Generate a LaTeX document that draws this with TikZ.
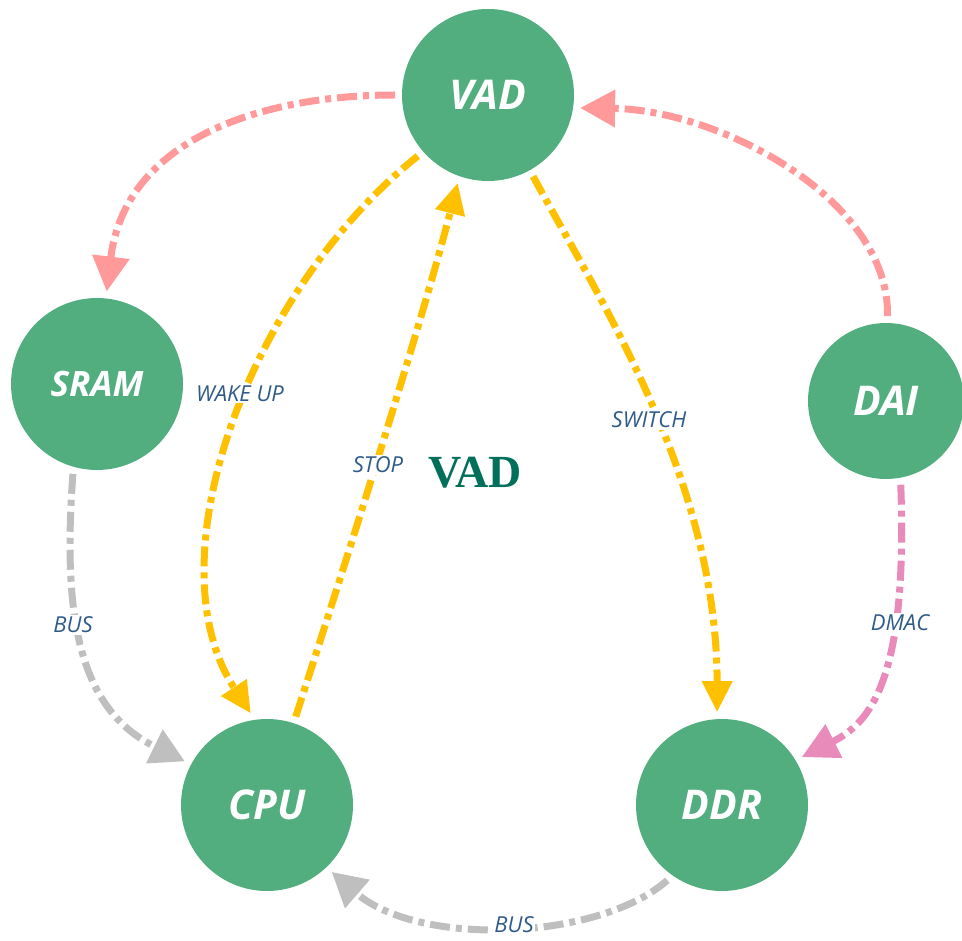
\documentclass[tikz,border=0pt]{standalone}
\usepackage{fontspec}
\setmainfont{Open Sans}
\newfontfamily\titlefont{Liberation Serif}
\usetikzlibrary{arrows.meta}
\definecolor{nodegreen}{HTML}{52AE7F}
\definecolor{pinkc}{HTML}{FF999A}
\definecolor{yellowc}{HTML}{FFC000}
\definecolor{grayc}{HTML}{BFBFBF}
\definecolor{dmacc}{HTML}{E88BBA}
\definecolor{lblblue}{HTML}{2F5B88}
\definecolor{titleteal}{HTML}{00705A}
\begin{document}
\begin{tikzpicture}[x=1pt,y=-1pt,
  circ/.style={circle, fill=nodegreen, minimum size=172pt, inner sep=0pt, outer sep=7pt,
    text=white, font=\fontsize{41}{43}\selectfont\bfseries\itshape},
  conn/.style={line width=7pt, dash pattern=on 20pt off 6pt on 6pt off 6pt},
  pinkarrow/.style={conn, draw=pinkc, -{Triangle[length=35pt,width=36pt]}},
  yellowarrow/.style={conn, draw=yellowc, -{Triangle[length=31pt,width=29pt]}},
  grayarrow/.style={conn, draw=grayc, -{Triangle[length=34pt,width=36pt]}},
  dmacarrow/.style={conn, draw=dmacc, -{Triangle[length=36pt,width=36pt]}},
  lbl/.style={fill=white, inner sep=1.5pt, text=lblblue, font=\fontsize{22}{24}\selectfont\itshape},
]
\useasboundingbox (0,0) rectangle (962,941);
\node[circ] (VAD) at (488,95) {VAD};
\node[circ, font=\fontsize{35}{37}\selectfont\bfseries\itshape] (SRAM) at (97,384) {SRAM};
\node[circ, minimum size=156pt] (DAI) at (886,401) {DAI};
\node[circ] (CPU) at (267,805) {CPU};
\node[circ] (DDR) at (722,805) {DDR};

\draw[pinkarrow] (VAD.180) .. controls (260,95) and (125,140) .. (SRAM.84);
\draw[pinkarrow] (DAI.89) .. controls (890,200) and (720,110) .. (VAD.352);
\draw[yellowarrow] (VAD.221) .. controls (250,290) and (150,560) .. (CPU.100);
\draw[yellowarrow] (CPU.72) .. controls (340,580) and (420,330) .. (VAD.251);
\draw[yellowarrow] (VAD.299) .. controls (600,300) and (717,480) .. (DDR.93);
\draw[grayarrow] (SRAM.255) .. controls (62,620) and (80,710) .. (CPU.152);
\draw[grayarrow] (DDR.234) .. controls (600,940) and (420,948) .. (CPU.314);
\draw[dmacarrow] (DAI.280) .. controls (908,680) and (870,723) .. (DDR.31);

\node[lbl] (lwake) at (240,394) {WAKE UP};
\node[lbl] (lstop) at (378,465) {STOP};
\node[lbl] (lswitch) at (649,420) {SWITCH};
\node[lbl] (lbus1) at (73,625) {BUS};
\node[lbl] (ldmac) at (900,623) {DMAC};
\node[lbl, inner sep=1pt] (lbus2) at (514,925) {BUS};
\node[text=titleteal, font=\titlefont\fontsize{46}{48}\selectfont\bfseries] (title) at (475,473) {VAD};
\end{tikzpicture}
\end{document}
